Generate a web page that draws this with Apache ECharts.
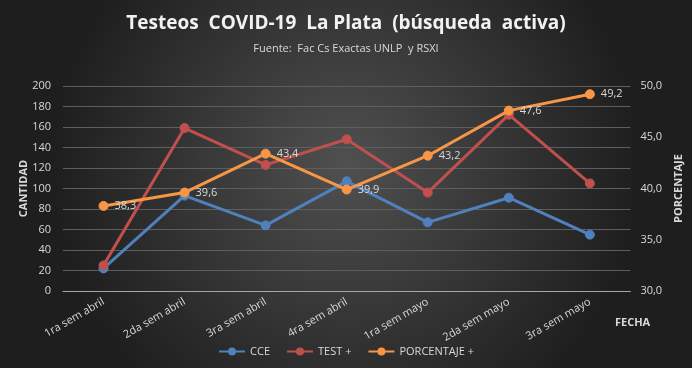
<!DOCTYPE html>
<html><head><meta charset="utf-8">
<script src="https://cdn.jsdelivr.net/npm/echarts@6/dist/echarts.min.js"></script>
<style>html,body{margin:0;padding:0;background:#2a2a2a}#c{width:692px;height:368px}</style>
</head><body><div id="c"></div>
<script>
const categories = ['1ra sem abril','2da sem abril','3ra sem abril','4ra sem abril','1ra sem mayo','2da sem mayo','3ra sem mayo'];
const cce = [22, 93, 64, 107, 67, 91, 55];
const testPos = [25, 159, 123, 148, 96, 172, 105];
const porcentaje = [38.3, 39.6, 43.4, 39.9, 43.2, 47.6, 49.2];
const leftTicks = [0, 200, 20];
const rightTicks = [30, 50, 5];

const chart = echarts.init(document.getElementById('c'));
const font = '"Open Sans", "Noto Sans", sans-serif';
function mk(name, data, color, yIdx, label) {
  return {
    name, type: 'line', data, yAxisIndex: yIdx,
    symbol: 'circle', symbolSize: 9,
    lineStyle: { color, width: 3 },
    itemStyle: { color, borderColor: color },
    label: label ? { show: true, position: 'right', color: '#d9d9d9', fontSize: 11, fontFamily: font,
      formatter: p => String(p.value).replace('.', ','), distance: 6 } : { show: false },
    z: yIdx === 1 ? 3 : 2
  };
}
chart.setOption({
  backgroundColor: {
    type: 'radial', x: 0.5, y: 0.45, r: 0.8,
    colorStops: [{ offset: 0, color: '#505050' }, { offset: 1, color: '#1e1e1e' }]
  },
  animation: false,
  title: [
    { text: 'Testeos  COVID-19  La Plata  (búsqueda  activa)', left: 'center', top: 9,
      textStyle: { color: '#f2f2f2', fontSize: 19, fontWeight: 'bold', fontFamily: font } },
    { text: 'Fuente:  Fac Cs Exactas UNLP  y RSXI', left: 'center', top: 38,
      textStyle: { color: '#d9d9d9', fontSize: 11, fontWeight: 'normal', fontFamily: font } }
  ],
  graphic: [
    { type: 'text', left: 615, top: 317,
      style: { text: 'FECHA', fill: '#d9d9d9', font: 'bold 11px ' + font } }
  ],
  legend: {
    bottom: 6, left: 'center', itemWidth: 26, itemHeight: 10, itemGap: 16,
    textStyle: { color: '#d9d9d9', fontSize: 11, fontFamily: font },
    data: ['CCE', 'TEST +', 'PORCENTAJE +']
  },
  grid: { left: 63, right: 60, top: 86, bottom: 77 },
  xAxis: {
    type: 'category', data: categories, boundaryGap: true,
    axisLine: { lineStyle: { color: '#a6a6a6', width: 1 } },
    axisTick: { show: false },
    axisLabel: { color: '#d9d9d9', fontSize: 11, fontFamily: font, rotate: 30, margin: 10, interval: 0 }
  },
  yAxis: [
    { type: 'value', min: leftTicks[0], max: leftTicks[1], interval: leftTicks[2],
      name: 'CANTIDAD', nameLocation: 'middle', nameGap: 34, nameRotate: 90, nameMoveOverlap: false,
      nameTextStyle: { color: '#d9d9d9', fontWeight: 'bold', fontSize: 11, fontFamily: font },
      axisLine: { show: false }, axisTick: { show: false },
      axisLabel: { color: '#d9d9d9', fontSize: 11, fontFamily: font, margin: 12 },
      splitLine: { lineStyle: { color: '#5e5e5e', width: 1 } } },
    { type: 'value', min: rightTicks[0], max: rightTicks[1], interval: rightTicks[2],
      name: 'PORCENTAJE', nameLocation: 'middle', nameGap: 34, nameRotate: 90,
      nameTextStyle: { color: '#d9d9d9', fontWeight: 'bold', fontSize: 11, fontFamily: font },
      axisLine: { show: false }, axisTick: { show: false },
      axisLabel: { color: '#d9d9d9', fontSize: 11, fontFamily: font, margin: 10, formatter: v => v.toFixed(1).replace('.', ',') },
      splitLine: { show: false } }
  ],
  series: [
    mk('CCE', cce, '#4f81bd', 0, false),
    mk('TEST +', testPos, '#c0504d', 0, false),
    mk('PORCENTAJE +', porcentaje, '#f79646', 1, true)
  ]
});
</script></body></html>
